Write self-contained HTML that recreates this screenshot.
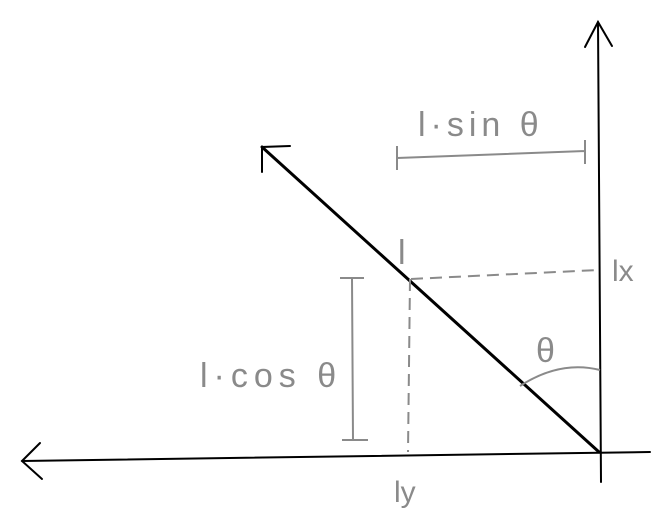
<!DOCTYPE html>
<html><head><meta charset="utf-8"><style>
html,body{margin:0;padding:0;background:#fff;width:672px;height:516px;overflow:hidden}
text{font-family:"Liberation Sans",sans-serif;fill:#8a8a8a}
</style></head><body>
<svg width="672" height="516" viewBox="0 0 672 516">
<g stroke="#000" stroke-width="2" fill="none" stroke-linecap="round">
<path d="M22,461 L650,452"/>
<path d="M40,443 L22,461 L42,479"/>
<path d="M601,482 L598,22"/>
<path d="M585,47 L598,22 L612,46"/>
<path stroke-width="3" d="M599,452 L262,147"/>
<path d="M290,146 L262,147 L262,172"/>
</g>
<g stroke="#8a8a8a" stroke-width="2" fill="none">
<path stroke-dasharray="12,7" d="M411,279 L598,270"/>
<path stroke-dasharray="12,7" d="M410,279 L408,452"/>
<path d="M352,278 L353,440 M340,278 L364,278 M342,440 L368,440"/>
<path d="M397,158 L585,151 M397,146 L397,170 M585,140 L585,164"/>
<path d="M520,386 Q560,360 600,370"/>
</g>
<text x="418" y="136" font-size="34" letter-spacing="5">l·sin θ</text>
<text x="398" y="264" font-size="34">l</text>
<text x="612" y="281" font-size="30">lx</text>
<text x="536" y="362" font-size="34">θ</text>
<text x="200" y="387" font-size="34" letter-spacing="6">l·cos θ</text>
<text x="394" y="502" font-size="30">ly</text>
</svg>
</body></html>
